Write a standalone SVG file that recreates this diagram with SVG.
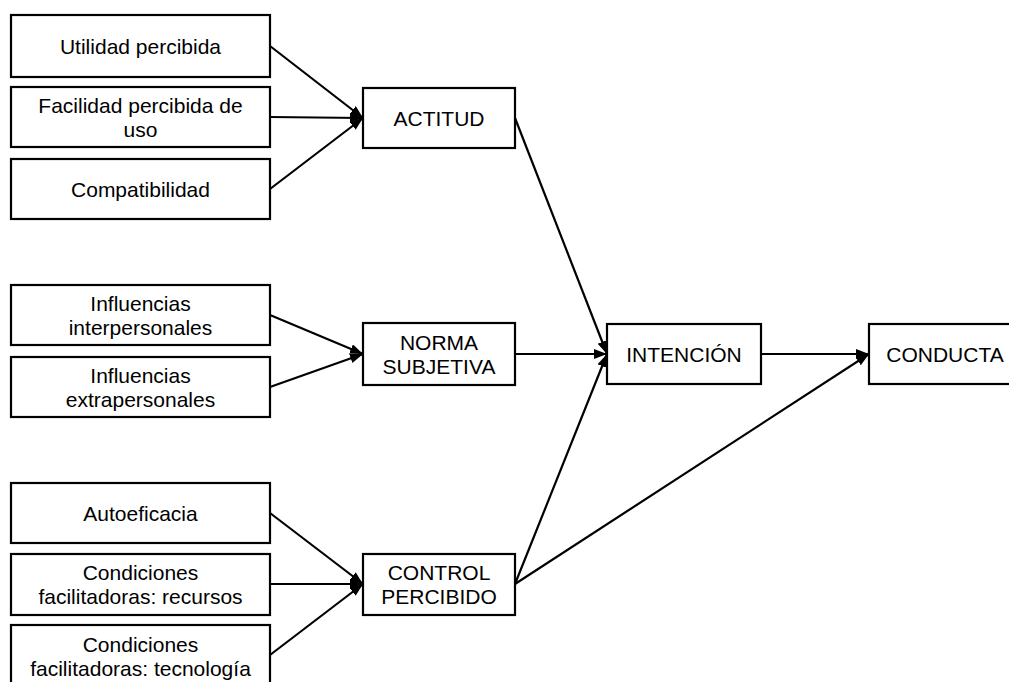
<svg xmlns="http://www.w3.org/2000/svg" width="1009" height="682" viewBox="0 0 1009 682">
  <style>
    .box { fill: #fff; stroke: #000; stroke-width: 2.2; }
    .lbl { font-family: "Liberation Sans", Arial, sans-serif; font-size: 21px; fill: #000; text-anchor: middle; }
    .edge { fill: none; stroke: #000; stroke-width: 2.2; marker-end: url(#arrow); }
  </style>
  <defs>
    <marker id="arrow" markerUnits="userSpaceOnUse" markerWidth="14" markerHeight="11" refX="13" refY="5" orient="auto">
      <path d="M0,0 L13,5 L0,10 z" fill="#000"/>
    </marker>
  </defs>
  <rect width="1009" height="682" fill="#fff"/>

  <!-- Connectors -->
  <g id="connectors">
    <line class="edge" x1="270" y1="46" x2="363" y2="118"/>
    <line class="edge" x1="270" y1="117" x2="363" y2="118"/>
    <line class="edge" x1="270" y1="189" x2="363" y2="118"/>
    <line class="edge" x1="270" y1="315" x2="363" y2="354"/>
    <line class="edge" x1="270" y1="387" x2="363" y2="354"/>
    <line class="edge" x1="270" y1="513" x2="363" y2="584"/>
    <line class="edge" x1="270" y1="584" x2="363" y2="584"/>
    <line class="edge" x1="270" y1="655" x2="363" y2="584"/>
    <line class="edge" x1="515" y1="118" x2="607" y2="354"/>
    <line class="edge" x1="515" y1="354" x2="607" y2="354"/>
    <line class="edge" x1="515" y1="584" x2="607" y2="354"/>
    <line class="edge" x1="761" y1="354" x2="869" y2="354"/>
    <line class="edge" x1="515" y1="584" x2="869" y2="354"/>
  </g>

  <!-- Actitud inputs -->
  <g id="utilidad">
    <rect class="box" x="11" y="15" width="259" height="62"/>
    <text class="lbl" x="140.5" y="53.5">Utilidad percibida</text>
  </g>
  <g id="facilidad">
    <rect class="box" x="11" y="87" width="259" height="60"/>
    <text class="lbl" x="140.5" y="112.5">Facilidad percibida de</text>
    <text class="lbl" x="140.5" y="136.5">uso</text>
  </g>
  <g id="compatibilidad">
    <rect class="box" x="11" y="159" width="259" height="60"/>
    <text class="lbl" x="140.5" y="196.5">Compatibilidad</text>
  </g>

  <!-- Norma subjetiva inputs -->
  <g id="influencias-inter">
    <rect class="box" x="11" y="285" width="259" height="60"/>
    <text class="lbl" x="140.5" y="310.5">Influencias</text>
    <text class="lbl" x="140.5" y="334.5">interpersonales</text>
  </g>
  <g id="influencias-extra">
    <rect class="box" x="11" y="357" width="259" height="60"/>
    <text class="lbl" x="140.5" y="382.5">Influencias</text>
    <text class="lbl" x="140.5" y="406.5">extrapersonales</text>
  </g>

  <!-- Control percibido inputs -->
  <g id="autoeficacia">
    <rect class="box" x="11" y="483" width="259" height="60"/>
    <text class="lbl" x="140.5" y="520.5">Autoeficacia</text>
  </g>
  <g id="condiciones-recursos">
    <rect class="box" x="11" y="554" width="259" height="61"/>
    <text class="lbl" x="140.5" y="580">Condiciones</text>
    <text class="lbl" x="140.5" y="604">facilitadoras: recursos</text>
  </g>
  <g id="condiciones-tecnologia">
    <rect class="box" x="11" y="625" width="259" height="62"/>
    <text class="lbl" x="140.5" y="652">Condiciones</text>
    <text class="lbl" x="140.5" y="676">facilitadoras: tecnología</text>
  </g>

  <!-- Constructs -->
  <g id="actitud">
    <rect class="box" x="363" y="88" width="152" height="60"/>
    <text class="lbl" x="439" y="125.5">ACTITUD</text>
  </g>
  <g id="norma">
    <rect class="box" x="363" y="323" width="152" height="62"/>
    <text class="lbl" x="439" y="350">NORMA</text>
    <text class="lbl" x="439" y="374">SUBJETIVA</text>
  </g>
  <g id="control">
    <rect class="box" x="363" y="554" width="152" height="61"/>
    <text class="lbl" x="439" y="580">CONTROL</text>
    <text class="lbl" x="439" y="604">PERCIBIDO</text>
  </g>
  <g id="intencion">
    <rect class="box" x="607" y="324" width="154" height="60"/>
    <text class="lbl" x="684" y="361.5">INTENCIÓN</text>
  </g>
  <g id="conducta">
    <rect class="box" x="869" y="324" width="152" height="60"/>
    <text class="lbl" x="945" y="361.5">CONDUCTA</text>
  </g>
</svg>
